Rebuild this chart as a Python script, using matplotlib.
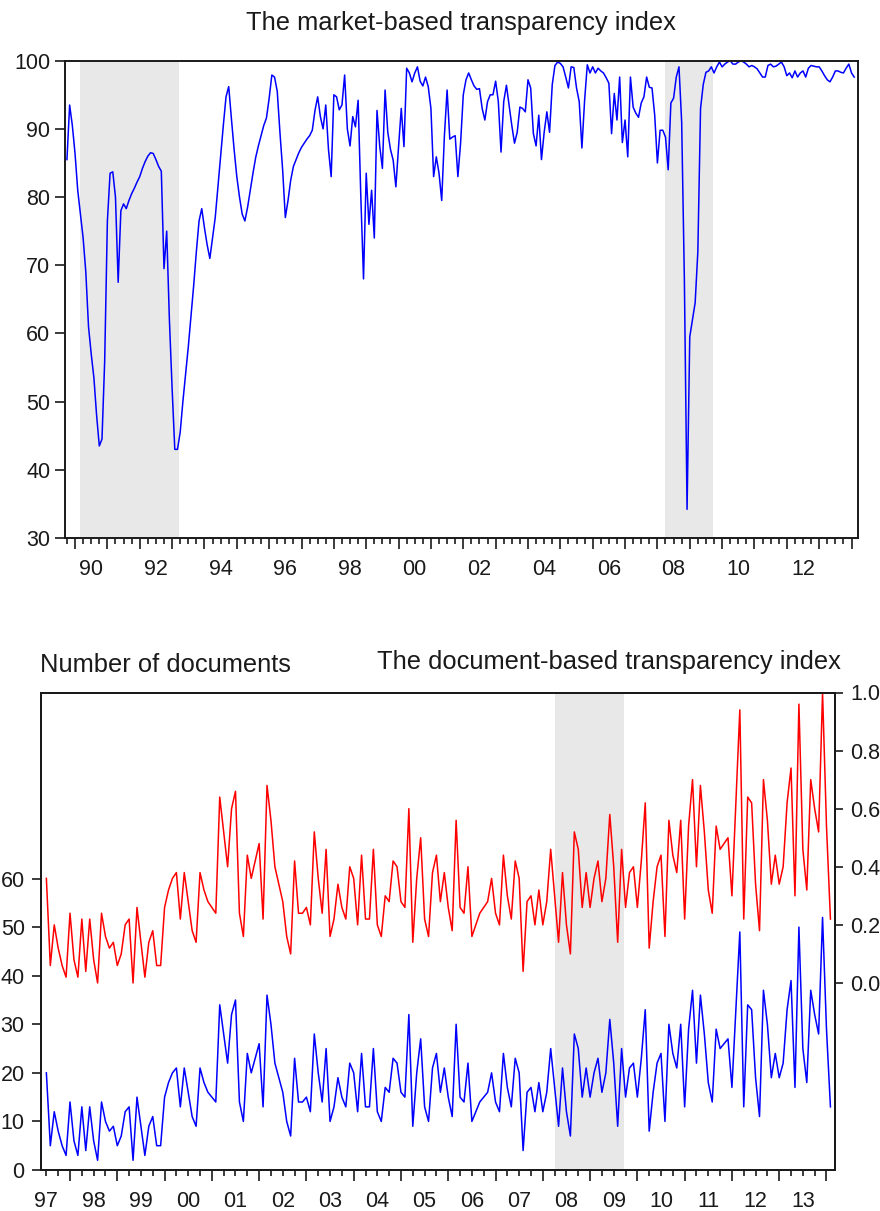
"""
Two EViews-style panels: the market-based transparency index (top) and the
number of documents / document-based transparency index (bottom).
"""
import matplotlib
matplotlib.use("Agg")
import matplotlib.pyplot as plt
import numpy as np

plt.rcParams["font.family"] = ["Liberation Sans", "DejaVu Sans"]

TXT = "#1a1a1a"
SHADE = "#e8e8e8"

# ── data ──────────────────────────────────────────────────────────────────────
# market-based index, monthly, starting 1989M10
market_start = (1989, 10)
market_index = [
    85.5, 93.5, 90.5,
    86.4, 81.0, 77.5, 74.0, 69.0, 61.0, 57.0, 53.5, 48.0, 43.5, 44.5, 56.0,   # 1990
    76.5, 83.5, 83.7, 80.0, 67.5, 78.0, 79.0, 78.3, 79.5, 80.5, 81.3, 82.2,   # 1991
    83.0, 84.2, 85.2, 86.0, 86.5, 86.4, 85.5, 84.5, 83.8, 69.5, 75.0, 62.0,   # 1992
    52.0, 43.0, 43.0, 45.5, 50.0, 54.0, 58.0, 62.5, 67.0, 72.0, 76.5, 78.3,   # 1993
    75.5, 73.0, 71.0, 74.0, 77.0, 81.5, 86.0, 90.5, 94.7, 96.2, 91.5, 87.0,   # 1994
    83.0, 80.0, 77.5, 76.5, 78.5, 81.0, 83.5, 85.8, 87.5, 89.0, 90.5, 91.6,   # 1995
    94.5, 97.9, 97.6, 95.5, 89.5, 84.0, 77.0, 79.5, 82.5, 84.5, 85.5, 86.5,   # 1996
    87.3, 87.9, 88.5, 89.0, 89.8, 92.7, 94.7, 91.8, 90.0, 93.5, 87.0, 83.0,   # 1997
    95.0, 94.7, 92.8, 93.5, 97.9, 90.0, 87.5, 91.8, 90.3, 94.2, 80.0, 68.0,   # 1998
    83.5, 76.0, 81.0, 74.0, 92.7, 87.5, 84.2, 95.7, 89.5, 87.0, 85.4, 81.5,   # 1999
    87.4, 93.0, 87.4, 98.9, 98.2, 96.9, 98.2, 99.1, 97.0, 96.3, 97.6, 96.2,   # 2000
    93.0, 83.0, 85.9, 83.5, 79.5, 89.0, 95.7, 88.5, 88.8, 89.0, 83.0, 87.9,   # 2001
    95.0, 97.2, 98.2, 97.2, 96.3, 95.8, 95.9, 93.0, 91.3, 94.0, 95.0, 95.0,   # 2002
    97.0, 94.0, 86.6, 94.0, 96.4, 93.5, 90.5, 87.9, 89.5, 93.2, 93.0, 92.5,   # 2003
    97.2, 96.0, 89.3, 87.5, 92.0, 85.5, 89.5, 92.5, 89.5, 96.5, 99.3, 99.8,   # 2004
    99.6, 99.1, 97.6, 96.0, 99.1, 99.0, 96.0, 94.0, 87.2, 94.2, 99.4, 98.2,   # 2005
    99.1, 98.2, 98.9, 98.5, 98.2, 97.5, 96.7, 89.3, 95.2, 91.3, 97.6, 88.0,   # 2006
    91.3, 85.9, 97.6, 93.2, 92.3, 91.7, 93.8, 94.7, 97.6, 96.1, 96.0, 92.0,   # 2007
    85.0, 89.8, 89.8, 88.8, 84.0, 93.8, 94.5, 97.6, 99.1, 91.0, 68.0, 34.2,   # 2008
    59.5, 62.0, 64.5, 72.0, 93.0, 96.5, 98.3, 98.5, 99.1, 98.2, 99.1, 99.8,   # 2009
    99.1, 99.5, 99.8, 100.0, 99.5, 99.5, 99.8, 100.0, 99.8, 99.5, 99.1, 99.3, # 2010
    99.1, 98.8, 98.2, 97.6, 97.6, 99.3, 99.5, 99.1, 99.2, 99.5, 99.8, 99.1,   # 2011
    97.8, 98.2, 97.5, 98.5, 97.6, 98.2, 98.5, 97.6, 98.9, 99.3, 99.2, 99.1,   # 2012
    99.1, 98.5, 97.8, 97.2, 96.9, 97.6, 98.5, 98.5, 98.3, 98.2, 98.9, 99.5,   # 2013
    98.2, 97.6,
]

# number of documents and the document-based index, monthly, starting 1997M7
docs_start = (1997, 7)
n_documents = [
    20, 5, 12, 8, 5, 3, 14, 6, 3, 13,
    4, 13, 6, 2, 14, 10, 8, 9, 5, 7,
    12, 13, 2, 15, 9, 3, 9, 11, 5, 5,
    15, 18, 20, 21, 13, 21, 16, 11, 9, 21,
    18, 16, 15, 14, 34, 28, 22, 32, 35, 14,
    10, 24, 20, 23, 26, 13, 36, 30, 22, 19,
    16, 10, 7, 23, 14, 14, 15, 12, 28, 20,
    14, 25, 10, 13, 19, 15, 13, 22, 20, 12,
    24, 13, 13, 25, 12, 10, 17, 16, 23, 22,
    16, 15, 32, 9, 20, 27, 13, 10, 21, 24,
    16, 21, 15, 11, 30, 15, 14, 22, 10, 12,
    14, 15, 16, 20, 14, 12, 24, 17, 13, 23,
    20, 4, 16, 17, 12, 18, 12, 16, 25, 17,
    9, 21, 12, 7, 28, 25, 15, 21, 15, 20,
    23, 16, 20, 31, 22, 9, 25, 15, 21, 22,
    15, 23, 33, 8, 16, 22, 24, 10, 30, 24,
    21, 30, 13, 29, 37, 22, 36, 28, 18, 14,
    29, 25, 26, 27, 17, 33, 49, 13, 34, 33,
    19, 11, 37, 30, 19, 24, 19, 22, 33, 39,
    17, 50, 25, 18, 37, 32, 28, 52, 29, 13,
]
doc_index = [
    0.36, 0.06, 0.20, 0.12, 0.06, 0.02, 0.24, 0.08, 0.02, 0.22,
    0.04, 0.22, 0.08, 0.00, 0.24, 0.16, 0.12, 0.14, 0.06, 0.10,
    0.20, 0.22, 0.00, 0.26, 0.14, 0.02, 0.14, 0.18, 0.06, 0.06,
    0.26, 0.32, 0.36, 0.38, 0.22, 0.38, 0.28, 0.18, 0.14, 0.38,
    0.32, 0.28, 0.26, 0.24, 0.64, 0.52, 0.40, 0.60, 0.66, 0.24,
    0.16, 0.44, 0.36, 0.42, 0.48, 0.22, 0.68, 0.56, 0.40, 0.34,
    0.28, 0.16, 0.10, 0.42, 0.24, 0.24, 0.26, 0.20, 0.52, 0.36,
    0.24, 0.46, 0.16, 0.22, 0.34, 0.26, 0.22, 0.40, 0.36, 0.20,
    0.44, 0.22, 0.22, 0.46, 0.20, 0.16, 0.30, 0.28, 0.42, 0.40,
    0.28, 0.26, 0.60, 0.14, 0.36, 0.50, 0.22, 0.16, 0.38, 0.44,
    0.28, 0.38, 0.26, 0.18, 0.56, 0.26, 0.24, 0.40, 0.16, 0.20,
    0.24, 0.26, 0.28, 0.36, 0.24, 0.20, 0.44, 0.30, 0.22, 0.42,
    0.36, 0.04, 0.28, 0.30, 0.20, 0.32, 0.20, 0.28, 0.46, 0.30,
    0.14, 0.38, 0.20, 0.10, 0.52, 0.46, 0.26, 0.38, 0.26, 0.36,
    0.42, 0.28, 0.36, 0.58, 0.40, 0.14, 0.46, 0.26, 0.38, 0.40,
    0.26, 0.42, 0.62, 0.12, 0.28, 0.40, 0.44, 0.16, 0.56, 0.44,
    0.38, 0.56, 0.22, 0.54, 0.70, 0.40, 0.68, 0.52, 0.32, 0.24,
    0.54, 0.46, 0.48, 0.50, 0.30, 0.62, 0.94, 0.22, 0.64, 0.62,
    0.34, 0.18, 0.70, 0.56, 0.34, 0.44, 0.34, 0.40, 0.62, 0.74,
    0.30, 0.96, 0.46, 0.32, 0.70, 0.60, 0.52, 1.00, 0.54, 0.22,
]

# shaded periods (decimal years)
shade_top = [(1990.15, 1993.22), (2008.25, 2009.72)]
shade_bottom = [(2008.25, 2009.72)]

top_label_years = list(range(1990, 2013, 2))
bottom_label_years = list(range(1997, 2014))


def monthly(start, n):
    y, m = start
    return y + (m - 1) / 12 + np.arange(n) / 12


def time_axis(ax, lo, hi, label_years):
    ax.set_xlim(lo, hi)
    years = np.arange(np.ceil(lo), np.floor(hi) + 1)
    ax.set_xticks(years, labels=[""] * len(years))
    quarters = [q for q in np.arange(np.floor(lo), hi, 0.25)
                if lo <= q <= hi and q % 1 != 0]
    labels = [f"{int(q) % 100:02d}" if (q % 1 == 0.5 and int(q) in label_years) else ""
              for q in quarters]
    ax.set_xticks(quarters, labels=labels, minor=True)
    ax.tick_params(axis="x", which="major", length=8, width=1.2, color=TXT)
    ax.tick_params(axis="x", which="minor", length=4.3, width=1.2, color=TXT,
                   pad=10.5, labelsize=15.5, labelcolor=TXT)


def frame(ax):
    for s in ax.spines.values():
        s.set_linewidth(1.4)
        s.set_color(TXT)


fig = plt.figure(figsize=(8.8, 12.11), dpi=100)
W, H = 880, 1211

# ── top panel ────────────────────────────────────────────────────────────────
ax1 = fig.add_axes([65 / W, 1 - 538 / H, 793 / W, 477.3 / H])
t_mkt = monthly(market_start, len(market_index))
for a, b in shade_top:
    ax1.axvspan(a, b, color=SHADE, lw=0, zorder=0)
ax1.plot(t_mkt, market_index, color="#0000ff", lw=1.1, zorder=2)
ax1.set_ylim(30, 100)
ax1.set_yticks(range(30, 101, 10))
ax1.tick_params(axis="y", length=7, width=1.2, pad=3.6, labelsize=15.5,
                color=TXT, labelcolor=TXT)
time_axis(ax1, 1989.69, 2014.20, top_label_years)
frame(ax1)
fig.text(460.5 / W, 1 - 30 / H, "The market-based transparency index",
         ha="center", va="baseline", fontsize=18.4, color=TXT)

# ── bottom panel ─────────────────────────────────────────────────────────────
ax2 = fig.add_axes([40.7 / W, 1 - 1170 / H, 794.3 / W, 477.5 / H])
ax3 = ax2.twinx()
t_doc = monthly(docs_start, len(n_documents))
for a, b in shade_bottom:
    ax2.axvspan(a, b, color=SHADE, lw=0, zorder=0)
ax2.plot(t_doc, n_documents, color="#0000ff", lw=1.1, zorder=2)
ax3.plot(t_doc, doc_index, color="#ff0000", lw=1.1, zorder=2)
ax2.set_ylim(0, 98.3)
ax2.set_yticks(range(0, 61, 10))
ax3.set_ylim(-0.644, 1.0)
ax3.set_yticks([0.0, 0.2, 0.4, 0.6, 0.8, 1.0])
ax3.set_yticklabels(["0.0", "0.2", "0.4", "0.6", "0.8", "1.0"])
ax2.tick_params(axis="y", length=6.5, width=1.2, pad=5, labelsize=15.5,
                color=TXT, labelcolor=TXT)
ax3.tick_params(axis="y", length=6, width=1.2, pad=5, labelsize=15.5,
                color=TXT, labelcolor=TXT)
time_axis(ax2, 1997.38, 2014.18, bottom_label_years)
frame(ax2)
frame(ax3)
fig.text(40 / W, 1 - 672 / H, "Number of documents",
         ha="left", va="baseline", fontsize=18.4, color=TXT)
fig.text(841 / W, 1 - 669 / H, "The document-based transparency index",
         ha="right", va="baseline", fontsize=18.4, color=TXT)

fig.savefig("out.png", dpi=100)
